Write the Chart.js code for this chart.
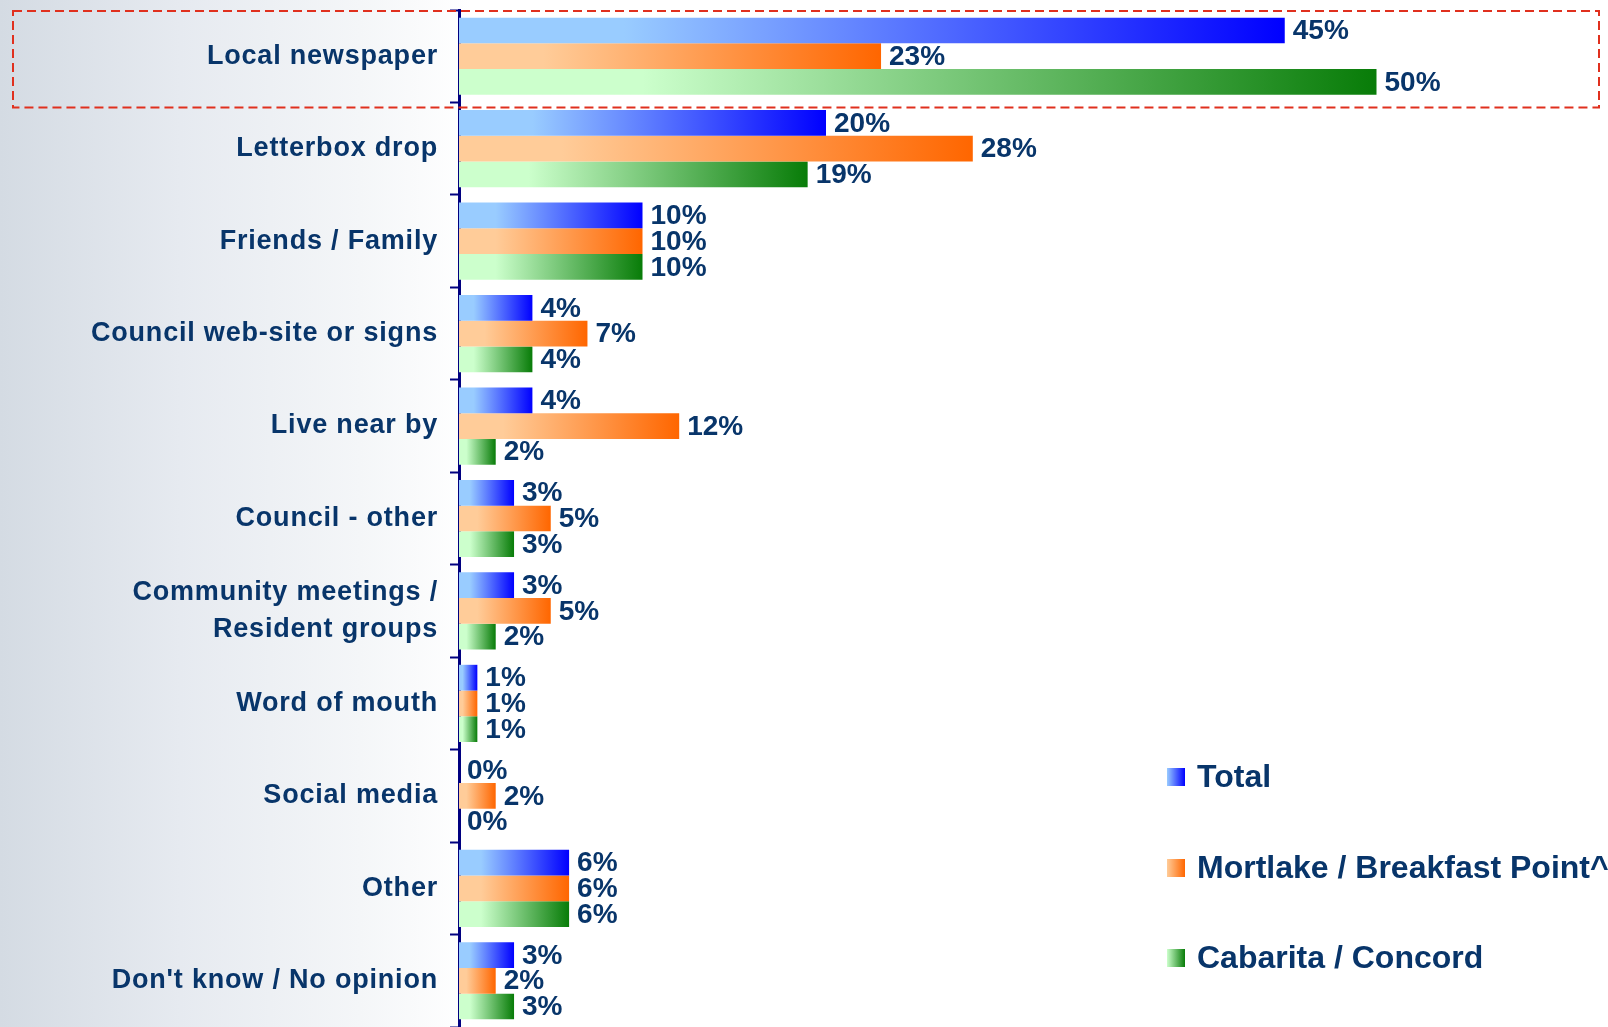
<!DOCTYPE html>
<html>
<head>
<meta charset="utf-8">
<script src="https://cdn.jsdelivr.net/npm/chart.js@4.4.1/dist/chart.umd.min.js"></script>
<style>
  html, body { margin: 0; padding: 0; }
  body {
    width: 1608px; height: 1027px; overflow: hidden;
    background: linear-gradient(to right, #d4dbe3 0px, #e6eaf0 180px, #f4f6f8 360px, #ffffff 470px);
  }
  #wrap { position: relative; width: 1608px; height: 1027px; }
</style>
</head>
<body>
<div id="wrap"><canvas id="chart1"></canvas></div>
<script>
const categories = [
  'Local newspaper', 'Letterbox drop', 'Friends / Family', 'Council web-site or signs',
  'Live near by', 'Council - other', ['Community meetings /', 'Resident groups'],
  'Word of mouth', 'Social media', 'Other', 'Don\'t know / No opinion'
]
const seriesNames = ['Total', 'Mortlake / Breakfast Point^', 'Cabarita / Concord']
const totalValues    = [45, 20, 10, 4, 4, 3, 3, 1, 0, 6, 3]
const mortlakeValues = [23, 28, 10, 7, 12, 5, 5, 1, 2, 6, 2]
const cabaritaValues = [50, 19, 10, 4, 2, 3, 2, 1, 0, 6, 3]

const textColor = '#08356a'
const axisColor = '#000080'
const lightColors = ['#99ccff', '#ffcc99', '#ccffcc']
const darkColors = ['#0000ff', '#ff6600', '#087c08']

// gradient runs along each bar from the axis to the bar end
function barGradient(i) {
  return function(context) {
    const chart = context.chart
    const area = chart.chartArea
    if (!area || context.type !== 'data' || !chart.scales.x) return darkColors[i]
    const x0 = area.left
    const x1 = chart.scales.x.getPixelForValue(context.raw)
    if (x1 - x0 < 2) return darkColors[i]
    const g = chart.ctx.createLinearGradient(x0, 0, x1, 0)
    g.addColorStop(0, lightColors[i])
    g.addColorStop(0.2, lightColors[i])
    g.addColorStop(1, darkColors[i])
    return g
  }
}

const spacingPlugin = {
  id: 'spacing',
  beforeDraw(chart) {
    chart.ctx.letterSpacing = '0.8px'
  }
}

const highlightBox = {
  id: 'highlightBox',
  beforeDatasetsDraw(chart) {
    const y = chart.scales.y
    const step = y.getPixelForValue(1) - y.getPixelForValue(0)
    const top = y.getPixelForValue(0) - step / 2
    const bottom = y.getPixelForValue(0) + step / 2 + 5
    const ctx = chart.ctx
    ctx.save()
    ctx.strokeStyle = '#e0301e'
    ctx.lineWidth = 2
    ctx.setLineDash([9, 5])
    ctx.strokeRect(13, top + 1, chart.width - 22, bottom - top - 1)
    ctx.restore()
  }
}

const valueLabels = {
  id: 'valueLabels',
  afterDatasetsDraw(chart) {
    const ctx = chart.ctx
    ctx.save()
    ctx.letterSpacing = '0px'
    ctx.font = 'bold 28px "Liberation Sans", Arial, sans-serif'
    ctx.fillStyle = textColor
    ctx.textBaseline = 'middle'
    ctx.textAlign = 'left'
    chart.data.datasets.forEach((ds, i) => {
      const meta = chart.getDatasetMeta(i)
      meta.data.forEach((bar, j) => {
        ctx.fillText(ds.data[j] + '%', bar.x + 8, bar.y + 1)
      })
    })
    ctx.restore()
  }
}

const sideLegend = {
  id: 'sideLegend',
  afterDraw(chart) {
    const ctx = chart.ctx
    ctx.save()
    ctx.letterSpacing = '0px'
    ctx.font = 'bold 32px "Liberation Sans", Arial, sans-serif'
    ctx.textBaseline = 'middle'
    const ys = [777, 868, 958]
    seriesNames.forEach((name, i) => {
      const g = ctx.createLinearGradient(1167, 0, 1185, 0)
      g.addColorStop(0, lightColors[i])
      g.addColorStop(1, darkColors[i])
      ctx.fillStyle = g
      ctx.fillRect(1167, ys[i] - 9, 18, 18)
      ctx.fillStyle = textColor
      ctx.fillText(name, 1197, ys[i] + 1)
    })
    ctx.restore()
  }
}

const ctx = document.getElementById('chart1')
new Chart(ctx, {
  type: 'bar',
  data: {
    labels: categories,
    datasets: [
      { label: seriesNames[0], data: totalValues, backgroundColor: barGradient(0) },
      { label: seriesNames[1], data: mortlakeValues, backgroundColor: barGradient(1) },
      { label: seriesNames[2], data: cabaritaValues, backgroundColor: barGradient(2) }
    ]
  },
  options: {
    indexAxis: 'y',
    responsive: true,
    maintainAspectRatio: false,
    animation: false,
    layout: { padding: { top: 10, right: 48, bottom: 0, left: 0 } },
    datasets: {
      bar: { categoryPercentage: 0.835, barPercentage: 1.0, borderWidth: 0 }
    },
    plugins: {
      legend: { display: false },
      tooltip: { enabled: false }
    },
    scales: {
      x: {
        display: false,
        min: 0,
        max: 60
      },
      y: {
        afterFit: (scale) => {
          scale.width = 459
          scale.paddingTop = 0
          scale.paddingBottom = 0
        },
        border: { display: true, color: axisColor, width: 3 },
        grid: {
          offset: true,
          drawOnChartArea: false,
          drawTicks: true,
          tickLength: 9,
          tickWidth: 2,
          tickColor: axisColor
        },
        ticks: {
          padding: 12,
          color: textColor,
          font: { family: '"Liberation Sans", Arial, sans-serif', size: 27, weight: 'bold', lineHeight: 1.36 }
        }
      }
    }
  },
  plugins: [spacingPlugin, highlightBox, valueLabels, sideLegend]
});
</script>
</body>
</html>
